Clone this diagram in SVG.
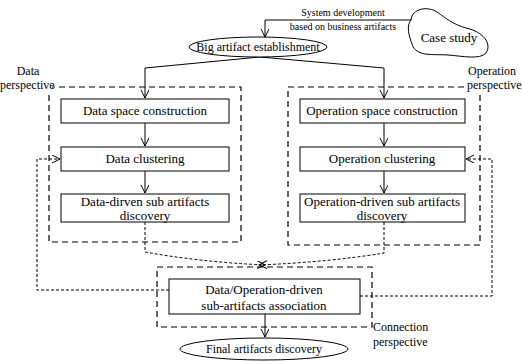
<svg xmlns="http://www.w3.org/2000/svg" width="522" height="361" viewBox="0 0 522 361" font-family="'Liberation Serif','Times New Roman',serif">
<defs>
<marker id="v" markerWidth="10" markerHeight="10" refX="8" refY="4" orient="auto" markerUnits="userSpaceOnUse">
<path d="M0,0 L8,4 L0,8" fill="none" stroke="#000" stroke-width="1"/>
</marker>
<style>
text{font-family:"Liberation Serif","Times New Roman",serif;fill:#000}
.box{fill:#fff;stroke:#000;stroke-width:1}
.grp{fill:none;stroke:#000;stroke-width:1.2;stroke-dasharray:6,4}
.c{fill:none;stroke:#000;stroke-width:1}
.fb{fill:none;stroke:#000;stroke-width:1;stroke-dasharray:3,2}
.t13{font-size:13px;text-anchor:middle}
.t12{font-size:12px;text-anchor:middle}
.t10{font-size:10px;text-anchor:middle}
.lab{font-size:12px}
</style>
</defs>
<rect width="522" height="361" fill="#fff"/>

<g id="data-perspective">
<rect class="grp" x="49" y="87" width="192" height="155"/>
<rect x="0" y="78" width="52" height="13" fill="#fff"/>
<text class="lab" x="28" y="75" text-anchor="middle">Data</text>
<text class="lab" x="0" y="89">perspective</text>
</g>
<g id="operation-perspective">
<rect class="grp" x="288" y="87" width="192" height="158"/>
<rect x="465" y="78" width="57" height="13" fill="#fff"/>
<text class="lab" x="492" y="75" text-anchor="middle">Operation</text>
<text class="lab" x="467" y="89">perspective</text>
</g>
<g id="connection-perspective">
<rect class="grp" x="157" y="267" width="215" height="60"/>
<text class="lab" x="373" y="331">Connection</text>
<text class="lab" x="373" y="346">perspective</text>
</g>

<g id="connectors">
<path class="c" d="M411,20 H265 V37" marker-end="url(#v)"/>
<path class="c" d="M260,57 L145,68 V98" marker-end="url(#v)"/>
<path class="c" d="M260,57 L384,68 V98" marker-end="url(#v)"/>
<path class="c" d="M145,123 V146" marker-end="url(#v)"/>
<path class="c" d="M145,171 V193" marker-end="url(#v)"/>
<path class="c" d="M384,123 V146" marker-end="url(#v)"/>
<path class="c" d="M384,171 V193" marker-end="url(#v)"/>
<path class="c" d="M265,314 V337" marker-end="url(#v)"/>
<path class="fb" d="M145,222 V252 Q200,262 265,265" marker-end="url(#v)"/>
<path class="fb" d="M384,222 V253 Q330,262 259,265" marker-end="url(#v)"/>
<path class="fb" d="M169,290 H37 V159 H60" marker-end="url(#v)"/>
<path class="fb" d="M360,296 H492 V159 H466" marker-end="url(#v)"/>
<text class="t10" x="343" y="16">System development</text>
<text class="t10" x="343" y="30">based on business artifacts</text>
</g>

<g id="case-study">
<path class="c" d="M411,20 C412,8 428,6 437,12 C446,18 452,24 466,28 C484,32 492,44 486,53 C480,60 462,56 448,55 C432,54 416,57 412,44 C409,36 406,26 411,20 Z"/>
<text class="t13" x="449" y="42">Case study</text>
</g>

<g id="big-artifact">
<ellipse class="box" cx="258" cy="47" rx="69" ry="10"/>
<text class="t12" x="258" y="51">Big artifact establishment</text>
</g>

<g id="data-space">
<rect class="box" x="61" y="99" width="168" height="24"/>
<text class="t13" x="145" y="115">Data space construction</text>
</g>
<g id="data-clustering">
<rect class="box" x="61" y="147" width="168" height="24"/>
<text class="t13" x="145" y="163">Data clustering</text>
</g>
<g id="data-driven">
<rect class="box" x="61" y="194" width="168" height="28"/>
<text class="t13" x="145" y="206">Data-dirven sub artifacts</text>
<text class="t13" x="145" y="220">discovery</text>
</g>

<g id="op-space">
<rect class="box" x="300" y="99" width="165" height="24"/>
<text class="t13" x="382" y="115">Operation space construction</text>
</g>
<g id="op-clustering">
<rect class="box" x="300" y="147" width="165" height="24"/>
<text class="t13" x="382" y="163">Operation clustering</text>
</g>
<g id="op-driven">
<rect class="box" x="300" y="194" width="165" height="28"/>
<text class="t13" x="382" y="206">Operation-driven sub artifacts</text>
<text class="t13" x="382" y="220">discovery</text>
</g>

<g id="association">
<rect class="box" x="169" y="279" width="191" height="35"/>
<text class="t13" x="264" y="294">Data/Operation-driven</text>
<text class="t13" x="264" y="310">sub-artifacts association</text>
</g>

<g id="final">
<ellipse class="box" cx="264" cy="349" rx="84" ry="11"/>
<text class="t12" x="264" y="353">Final artifacts discovery</text>
</g>
</svg>
